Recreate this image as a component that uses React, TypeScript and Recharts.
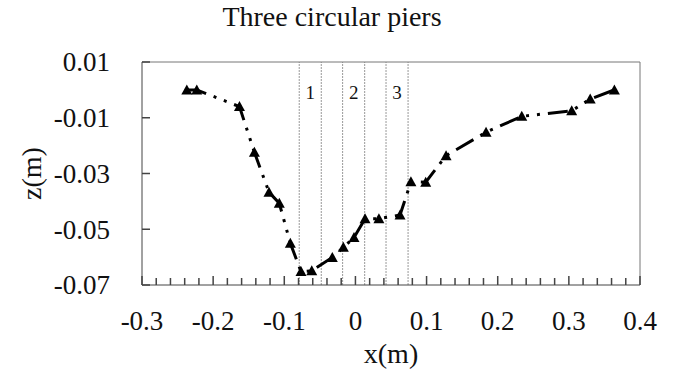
import React from "react";
import {
  LineChart,
  Line,
  XAxis,
  YAxis,
  ReferenceLine,
  ReferenceArea,
} from "recharts";

// bed profile across the pier group
const xPos = [
  -0.237, -0.223, -0.163, -0.142, -0.1215, -0.107, -0.0915, -0.0765, -0.0614,
  -0.0325, -0.017, -0.002, 0.0135, 0.033, 0.0627, 0.078, 0.0988, 0.1274,
  0.1836, 0.2338, 0.304, 0.33, 0.364,
];
const zPos = [
  0.0, 0.0, -0.006, -0.0224, -0.0367, -0.0407, -0.055, -0.0652, -0.0649,
  -0.0601, -0.0565, -0.053, -0.0462, -0.0462, -0.0449, -0.033, -0.0331,
  -0.0236, -0.0152, -0.0095, -0.0075, -0.0033, 0.0,
];

// pier edges (m)
const pierLeft = [-0.079, -0.018, 0.043];
const pierRight = [-0.048, 0.013, 0.074];
const pierNames = ["1", "2", "3"];

const xTicks = [
  -0.3, -0.28, -0.26, -0.24, -0.22, -0.2, -0.18, -0.16, -0.14, -0.12, -0.1,
  -0.08, -0.06, -0.04, -0.02, 0, 0.02, 0.04, 0.06, 0.08, 0.1, 0.12, 0.14, 0.16,
  0.18, 0.2, 0.22, 0.24, 0.26, 0.28, 0.3, 0.32, 0.34, 0.36, 0.38, 0.4,
];
const xLabels = [-0.3, -0.2, -0.1, 0, 0.1, 0.2, 0.3, 0.4];
const zTicks = [0.01, -0.01, -0.03, -0.05, -0.07];

const data = xPos.map((x, i) => ({ x, z: zPos[i] }));

const FONT = '"Liberation Serif", "Times New Roman", serif';

const isLabel = (v: number) => xLabels.some((l) => Math.abs(l - v) < 1e-9);

// inward tick marks, labels only on the 0.1 steps
const XTick = ({ x, y, payload }: any) => {
  const major = isLabel(payload.value);
  const len = major ? 9 : 7;
  return (
    <g>
      <rect x={x - 0.75} y={y - len} width={1.5} height={len} fill="#444" />
      {major && (
        <text x={x} y={y + 45} textAnchor="middle" fontSize={27} fontFamily={FONT} fill="#111">
          {String(payload.value)}
        </text>
      )}
    </g>
  );
};

const YTick = ({ x, y, payload }: any) => (
  <g>
    <rect x={x} y={y - 0.75} width={8} height={1.5} fill="#444" />
    <text x={x - 32} y={y} dy="0.35em" textAnchor="end" fontSize={27} fontFamily={FONT} fill="#111">
      {String(payload.value)}
    </text>
  </g>
);

const Triangle = ({ cx, cy }: any) => (
  <polygon
    points={`${cx},${cy - 5.5} ${cx - 5.5},${cy + 4.5} ${cx + 5.5},${cy + 4.5}`}
    fill="#000"
  />
);

export default function App() {
  return (
    <div style={{ position: "absolute", left: 0, top: 0, background: "#fff" }}>
      <LineChart
        width={673}
        height={381}
        data={data}
        margin={{ top: 62, right: 33, bottom: 0, left: 0 }}
      >
        <text x={332} y={26} textAnchor="middle" fontSize={28} fontFamily={FONT} fill="#111">
          Three circular piers
        </text>
        {pierLeft.map((l, i) => (
          <ReferenceArea
            key={"p" + i}
            x1={l}
            x2={pierRight[i]}
            y1={-0.07}
            y2={0.01}
            fill="none"
            stroke="none"
            label={{
              value: pierNames[i],
              position: "insideTop",
              offset: 24,
              fontSize: 19,
              fontFamily: FONT,
              fill: "#111",
            }}
          />
        ))}
        {[...pierLeft, ...pierRight].map((v, i) => (
          <ReferenceLine key={"e" + i} x={v} stroke="#999" strokeWidth={1} strokeDasharray="2 1" />
        ))}
        {/* frame: top and right edges of the plot area */}
        <ReferenceLine y={0.01} stroke="#777" strokeWidth={1} />
        <ReferenceLine x={0.4} stroke="#777" strokeWidth={1} />
        <XAxis
          dataKey="x"
          type="number"
          domain={[-0.3, 0.4]}
          ticks={xTicks}
          interval={0}
          allowDataOverflow
          height={96}
          tickSize={0}
          tickMargin={0}
          tickLine={false}
          axisLine={{ stroke: "#444" }}
          tick={(p: any) => <XTick {...p} />}
          label={{
            content: ({ viewBox }: any) => (
              <text
                x={viewBox.x + viewBox.width / 2}
                y={363}
                textAnchor="middle"
                fontSize={28}
                fontFamily={FONT}
                fill="#111"
              >
                x(m)
              </text>
            ),
          }}
        />
        <YAxis
          dataKey="z"
          type="number"
          domain={[-0.07, 0.01]}
          ticks={zTicks}
          interval={0}
          allowDataOverflow
          width={142}
          tickSize={0}
          tickMargin={0}
          tickLine={false}
          axisLine={{ stroke: "#444" }}
          tick={(p: any) => <YTick {...p} />}
          label={{
            content: ({ viewBox }: any) => {
              const cx = 31;
              const cy = viewBox.y + viewBox.height / 2;
              return (
                <text
                  x={cx}
                  y={cy}
                  dy="0.35em"
                  transform={`rotate(-90 ${cx} ${cy})`}
                  textAnchor="middle"
                  fontSize={28}
                  fontFamily={FONT}
                  fill="#111"
                >
                  z(m)
                </text>
              );
            },
          }}
        />
        <Line
          type="linear"
          dataKey="z"
          stroke="#000"
          strokeWidth={3}
          strokeDasharray="20 8 3 8 3 8"
          dot={<Triangle />}
          activeDot={false}
          isAnimationActive={false}
        />
      </LineChart>
    </div>
  );
}
